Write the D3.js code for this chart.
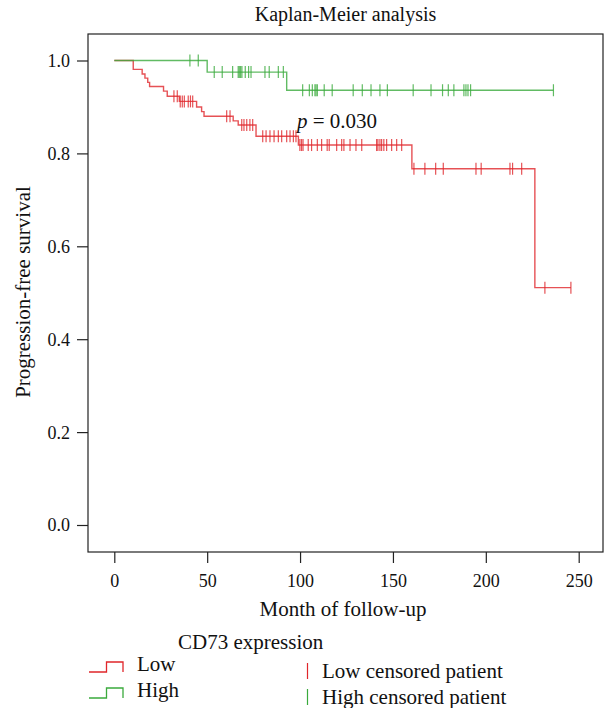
<!DOCTYPE html>
<html>
<head>
<meta charset="utf-8">
<script src="https://cdn.jsdelivr.net/npm/d3@7"></script>
<style>
  body { margin: 0; background: #fff; }
  svg text { font-family: "Liberation Serif", "DejaVu Serif", serif; fill: #111; }
</style>
</head>
<body>
<script>
// Low CD73 group: step times and survival after each step
var lowTimes = [0, 10.2, 15.0, 16.5, 18.0, 19.0, 26.5, 28.5, 35.0, 44.3, 47.0, 48.3, 64.0, 66.7, 76.3, 99.1, 160.2, 226.4];
var lowSurv  = [1.0, 0.981, 0.971, 0.962, 0.953, 0.944, 0.934, 0.923, 0.912, 0.900, 0.890, 0.880, 0.870, 0.861, 0.837, 0.818, 0.767, 0.511];
var lowEnd = 245.8;
var lowCensor = [32.1, 33.9, 35.5, 36.6, 37.7, 39.8, 41.0, 42.2, 60.5, 62.3, 68.6, 69.8, 71.3, 73.0, 74.5,
    79.9, 81.7, 83.8, 86.0, 88.3, 90.1, 92.8, 94.6, 96.4, 97.8, 99.9, 100.8, 101.6, 104.4, 106.2, 109.3,
    111.6, 114.6, 115.7, 119.7, 122.4, 123.6, 126.9, 130.1, 133.2, 141.2, 141.9, 143.0, 143.9, 145.1,
    146.6, 149.3, 152.0, 154.7, 161.3, 167.2, 173.0, 177.1, 194.7, 197.5, 213.0, 214.4, 219.3, 231.8, 245.8];

// High CD73 group
var highTimes = [0, 50.0, 92.8];
var highSurv  = [1.0, 0.975, 0.936];
var highEnd = 236.4;
var highCensor = [40.7, 45.2, 53.8, 58.1, 63.7, 66.7, 67.3, 68.0, 68.7, 70.5, 72.3, 73.6, 81.1, 83.4, 88.3,
    91.0, 101.4, 105.0, 106.6, 108.0, 108.6, 109.3, 113.0, 117.3, 128.6, 133.5, 138.2, 143.0, 147.0,
    160.9, 170.5, 176.7, 179.8, 182.8, 188.2, 189.3, 190.4, 191.8, 236.4];

var xTicks = [0, 50, 100, 150, 200, 250];
var yTicks = [0, 0.2, 0.4, 0.6, 0.8, 1.0];
var pLabel = "0.030";

var redCol = "#e0262a", greenCol = "#3aaa3c";

var width = 606, height = 708;
var box = { left: 88, top: 34, right: 603, bottom: 552 };

var svg = d3.select("body").append("svg")
    .attr("width", width)
    .attr("height", height);

var x = d3.scaleLinear().domain([0, 250]).range([114.3, 578.7]);
var y = d3.scaleLinear().domain([0, 1]).range([525, 60.5]);

//box
svg.append("rect")
    .attr("x", box.left).attr("y", box.top)
    .attr("width", box.right - box.left).attr("height", box.bottom - box.top)
    .attr("fill", "none").attr("stroke", "#222").attr("stroke-width", 1.2);

//axes
var xAxis = svg.append("g")
    .attr("transform", "translate(0," + box.bottom + ")")
    .call(d3.axisBottom(x).tickValues(xTicks).tickSize(11).tickFormat(d3.format("d")));
xAxis.select(".domain").remove();
xAxis.selectAll("line").attr("stroke", "#222").attr("stroke-width", 1.2);
xAxis.selectAll("text").attr("y", 35).attr("dy", 0).attr("font-size", 18)
    .style("font-family", "Liberation Serif, serif");

var yAxis = svg.append("g")
    .attr("transform", "translate(" + box.left + ",0)")
    .call(d3.axisLeft(y).tickValues(yTicks).tickSize(11).tickFormat(d3.format(".1f")));
yAxis.select(".domain").remove();
yAxis.selectAll("line").attr("stroke", "#222").attr("stroke-width", 1.2);
yAxis.selectAll("text").attr("x", -18).attr("dy", "0.33em").attr("font-size", 18)
    .style("font-family", "Liberation Serif, serif");

//labels
svg.append("text")
    .attr("x", (box.left + box.right) / 2).attr("y", 21)
    .attr("text-anchor", "middle").attr("font-size", 20)
    .text("Kaplan-Meier analysis");

svg.append("text")
    .attr("x", 343).attr("y", 616)
    .attr("text-anchor", "middle").attr("font-size", 21)
    .text("Month of follow-up");

svg.append("text")
    .attr("transform", "translate(30,292) rotate(-90)")
    .attr("text-anchor", "middle").attr("font-size", 21)
    .text("Progression-free survival");

var pText = svg.append("text")
    .attr("x", 297).attr("y", 128).attr("font-size", 21);
pText.append("tspan").attr("font-style", "italic").text("p");
pText.append("tspan").text(" = " + pLabel);

//survival curves
function stepData(times, surv, end) {
    var pts = times.map(function (t, i) { return [t, surv[i]]; });
    pts.push([end, surv[surv.length - 1]]);
    return pts;
}
function survAt(times, surv, t) {
    var i = d3.bisectRight(times, t) - 1;
    return surv[Math.max(i, 0)];
}

var line = d3.line()
    .x(function (d) { return x(d[0]); })
    .y(function (d) { return y(d[1]); })
    .curve(d3.curveStepAfter);

var groups = [
    { times: lowTimes, surv: lowSurv, end: lowEnd, censor: lowCensor, color: redCol },
    { times: highTimes, surv: highSurv, end: highEnd, censor: highCensor, color: greenCol }
];

groups.forEach(function (g) {
    svg.append("path")
        .datum(stepData(g.times, g.surv, g.end))
        .attr("d", line)
        .attr("fill", "none")
        .attr("stroke", g.color)
        .attr("stroke-width", 1.4)
        .attr("stroke-opacity", 0.8);

    svg.append("g").selectAll("line")
        .data(g.censor)
        .enter().append("line")
        .attr("x1", function (d) { return x(d); })
        .attr("x2", function (d) { return x(d); })
        .attr("y1", function (d) { return y(survAt(g.times, g.surv, d)) - 6; })
        .attr("y2", function (d) { return y(survAt(g.times, g.surv, d)) + 6; })
        .attr("stroke", g.color)
        .attr("stroke-width", 1.2)
        .attr("stroke-opacity", 0.8);
});

//legend
svg.append("text")
    .attr("x", 178).attr("y", 649).attr("font-size", 21)
    .text("CD73 expression");

var legendItems = [
    { label: "Low", cens: "Low censored patient", color: redCol, y: 671, cy: 678 },
    { label: "High", cens: "High censored patient", color: greenCol, y: 697, cy: 704 }
];

legendItems.forEach(function (d) {
    var base = d.y + 1, top = d.y - 9;
    svg.append("path")
        .attr("d", "M89," + base + "H106.5V" + top + "H123V" + base)
        .attr("fill", "none")
        .attr("stroke", d.color)
        .attr("stroke-width", 1.3);
    svg.append("text")
        .attr("x", 137).attr("y", d.y).attr("font-size", 21)
        .text(d.label);
    svg.append("line")
        .attr("x1", 307.5).attr("x2", 307.5)
        .attr("y1", d.cy - 15).attr("y2", d.cy + 1)
        .attr("stroke", d.color).attr("stroke-width", 1.2);
    svg.append("text")
        .attr("x", 322).attr("y", d.cy).attr("font-size", 21)
        .text(d.cens);
});
</script>
</body>
</html>
